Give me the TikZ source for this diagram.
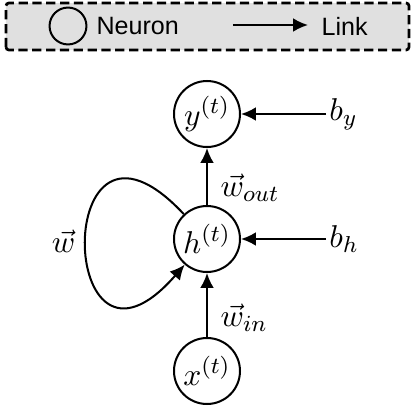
\documentclass[tikz,border=0pt]{standalone}
\usepackage{fontspec}
\newfontfamily\legendfont{Liberation Sans}
\usetikzlibrary{arrows.meta, positioning}

\tikzset{
	neuron/.style={draw, circle, line width=0.7pt, minimum size=22.9pt, inner sep=0pt},
	link/.style={-{Latex[length=5.2pt, width=4.8pt]}, line width=0.7pt},
	legendtext/.style={font=\legendfont\fontsize{8.7}{10}\selectfont, inner sep=0pt, anchor=west},
	bias/.style={inner sep=1pt},
}

\begin{document}
\begin{tikzpicture}[x=0.347pt, y=0.347pt, font=\fontsize{10.95}{13}\selectfont]
			\useasboundingbox (0,0) rectangle (415,415);
			
			% legend
			\draw [fill=black!12, line width=0.95pt, dash pattern=on 3.2pt off 1.6pt, rounded corners=1pt] (6,365) rectangle (409,412);
			\node [neuron, minimum size=12.8pt] (lgneuron) at (68,389) {};
			\node [legendtext] (lgneurontext) at (96,389) {Neuron};
			\coordinate (lgstart) at (233,390);
			\coordinate (lgend) at (308,390);
			\draw [link] (lgstart) -- (lgend);
			\node [legendtext] (lglinktext) at (321,389) {Link};
			
			% network
			\node [neuron] (y) at (207,301) {$y^{(t)}$};
			\node [neuron] (h) at (207,176) {$h^{(t)}$};
			\node [neuron] (x) at (207,44) {$x^{(t)}$};
			\node [bias, right=29.5pt of y] (by) {$b_y$};
			\node [bias, right=29.5pt of h] (bh) {$b_h$};
			
			\draw [link] (x) -- (h) node [pos=0.3, right=1pt] {$\vec{w}_{in}$};
			\draw [link] (h) -- (y) node [pos=0.3, right=1pt] {$\vec{w}_{out}$};
			\draw [link] (by) -- (y);
			\draw [link] (bh) -- (h);
			\draw [link] (h.133) .. controls +(133:196) and +(229:196) .. (h.229) node [pos=0.5, left=0pt] {$\vec{w}$};
		\end{tikzpicture}
\end{document}
